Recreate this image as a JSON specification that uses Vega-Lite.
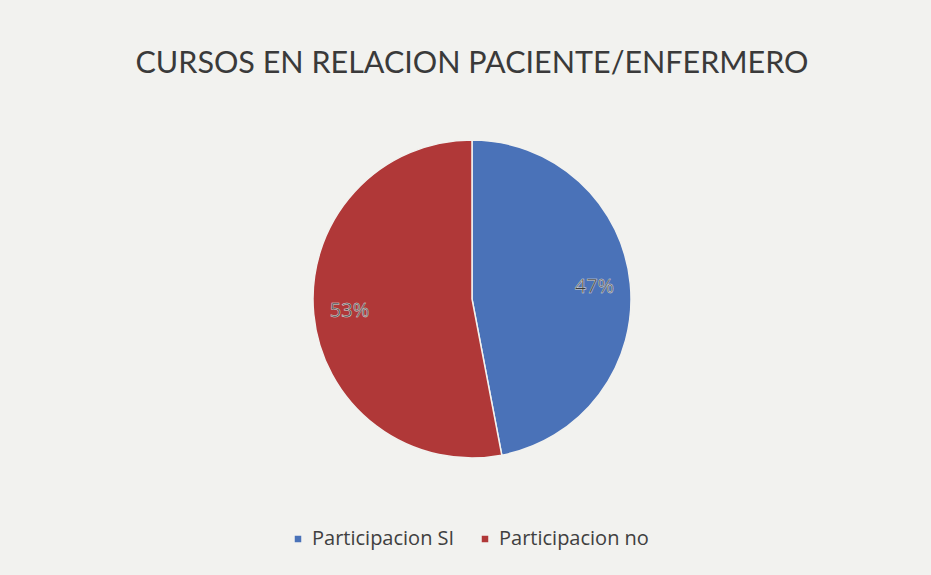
{
  "$schema": "https://vega.github.io/schema/vega-lite/v6.json",
  "width": 918,
  "height": 318,
  "padding": {"left": 13, "top": 48, "right": 0, "bottom": 30},
  "background": "#f2f2ef",
  "title": {
    "text": "CURSOS EN RELACION PACIENTE/ENFERMERO",
    "font": "Lato",
    "fontSize": 30.5,
    "fontWeight": "normal",
    "color": "#3a3a3a",
    "anchor": "middle",
    "offset": 58
  },
  "data": {
    "values": [
      {"categoria": "Participacion SI", "porcentaje": 47, "orden": 1, "etiqueta": "47%"},
      {"categoria": "Participacion no", "porcentaje": 53, "orden": 2, "etiqueta": "53%"}
    ]
  },
  "encoding": {
    "theta": {"field": "porcentaje", "type": "quantitative", "stack": true},
    "order": {"field": "orden", "type": "ordinal"},
    "color": {
      "field": "categoria",
      "type": "nominal",
      "sort": ["Participacion SI", "Participacion no"],
      "scale": {"domain": ["Participacion SI", "Participacion no"], "range": ["#4a72b8", "#b03838"]},
      "legend": {
        "title": null,
        "orient": "none",
        "legendX": 275,
        "legendY": 389,
        "direction": "horizontal",
        "symbolType": "square",
        "symbolSize": 64,
        "labelFont": "Open Sans",
        "labelFontSize": 20,
        "labelColor": "#404040",
        "columnPadding": 20
      }
    }
  },
  "layer": [
    {"mark": {"type": "arc", "stroke": "#f2f2ef", "strokeWidth": 1.5}},
    {
      "mark": {"type": "text", "radius": 123, "font": "Open Sans", "fontSize": 20, "fill": "#3a3a3a", "stroke": "#e0e0e0", "strokeWidth": 0.5},
      "encoding": {
        "text": {"field": "etiqueta", "type": "nominal"},
        "color": {"value": "#3a3a3a"}
      }
    }
  ]
}
